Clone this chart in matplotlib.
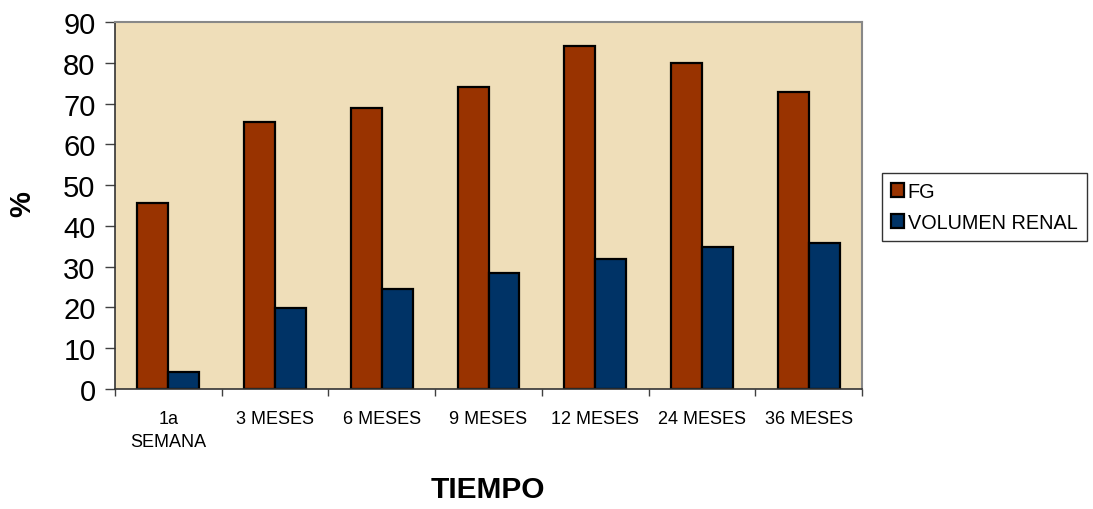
import numpy as np
from matplotlib import pyplot as plt

plt.rcParams['font.family'] = ['Liberation Sans', 'DejaVu Sans']

categorias = ['1a\nSEMANA', '3 MESES', '6 MESES', '9 MESES', '12 MESES', '24 MESES', '36 MESES']
fg = [45.5, 65.4, 68.9, 74.1, 84.0, 79.9, 72.8]
volumen_renal = [4.1, 19.8, 24.5, 28.4, 31.9, 34.9, 35.8]

fig = plt.figure(figsize=(10.93, 5.10), dpi=100)
ax = fig.add_axes([115 / 1093, 120 / 510, 747 / 1093, 367 / 510])
ax.set_facecolor('#EFDEB9')

x = np.arange(len(categorias)) + 0.5
w = 0.29
ax.bar(x - w / 2, fg, w, color='#993300', edgecolor='black', linewidth=1.6, label='FG')
ax.bar(x + w / 2, volumen_renal, w, color='#003366', edgecolor='black', linewidth=1.6, label='VOLUMEN RENAL')

ax.set_xlim(0, len(categorias))
ax.set_ylim(0, 90)
ax.set_yticks(range(0, 91, 10))
ax.tick_params(axis='y', labelsize=21, length=7, width=1, color='#404040', pad=7)

# ticks en los bordes de cada categoria, etiquetas en el centro
ax.set_xticks(np.arange(len(categorias) + 1))
ax.set_xticklabels([])
ax.tick_params(axis='x', which='major', length=5, width=1, color='#404040')
ax.set_xticks(x, minor=True)
ax.set_xticklabels(categorias, minor=True, fontsize=13, linespacing=1.5, va='top')
ax.tick_params(axis='x', which='minor', length=0, pad=15)

for s in ['top', 'right']:
    ax.spines[s].set_color('#888888')
    ax.spines[s].set_linewidth(1.5)
for s in ['left', 'bottom']:
    ax.spines[s].set_color('#333333')
    ax.spines[s].set_linewidth(1.2)

fig.text(22 / 1093, 1 - 204 / 510, '%', rotation=90, fontsize=21, fontweight='bold',
         ha='center', va='center')
fig.text(488 / 1093, 1 - 490 / 510, 'TIEMPO', fontsize=21.5, fontweight='bold',
         ha='center', va='center')

leg = fig.legend(loc='upper left', bbox_to_anchor=(882 / 1093, 1 - 174 / 510),
                 fontsize=14.3, frameon=True, fancybox=False, handlelength=0.65,
                 handleheight=0.65, handletextpad=0.2, borderpad=0.45, labelspacing=0.6,
                 borderaxespad=0)
leg.get_frame().set_edgecolor('black')
leg.get_frame().set_linewidth(1)

plt.savefig('out.png', dpi=100)
